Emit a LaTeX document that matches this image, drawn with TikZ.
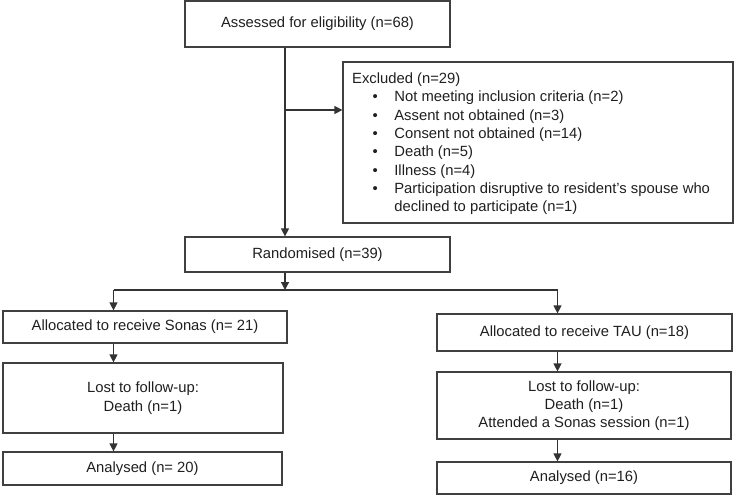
\documentclass[tikz,border=0pt]{standalone}
\usepackage{fontspec}
\setmainfont{Liberation Sans}
\usetikzlibrary{arrows.meta}
\begin{document}
\begin{tikzpicture}[x=1pt,y=-1pt,
  box/.style={draw=black!75, line width=1.2pt, inner sep=0pt, align=center, text=black!88},
  arr/.style={draw=black!80, line width=1.2pt, -{Triangle[length=8pt,width=8pt]}},
  ln/.style={draw=black!80, line width=1.2pt},
  every node/.style={font=\fontsize{14.8}{18.3}\selectfont}]
\useasboundingbox (0,0) rectangle (734,495);
% boxes
\node[box, minimum width=265pt, minimum height=46pt] (assess) at (317.5,24) {Assessed for eligibility (n=68)};
\node[box, minimum width=390pt, minimum height=161pt] (excl) at (538,142.5) {};
\node[anchor=north west, inner sep=0pt, text=black!88] (excltxt) at (352,70.6) {%
\begin{tabular}{@{}l@{}l@{}}
\multicolumn{2}{@{}l}{Excluded (n=29)}\\
\hspace*{20.5pt}\textbullet\hspace*{16.5pt} & Not meeting inclusion criteria (n=2)\\
\hspace*{20.5pt}\textbullet\hspace*{16.5pt} & Assent not obtained (n=3)\\
\hspace*{20.5pt}\textbullet\hspace*{16.5pt} & Consent not obtained (n=14)\\
\hspace*{20.5pt}\textbullet\hspace*{16.5pt} & Death (n=5)\\
\hspace*{20.5pt}\textbullet\hspace*{16.5pt} & Illness (n=4)\\
\hspace*{20.5pt}\textbullet\hspace*{16.5pt} & Participation disruptive to resident’s spouse who\\
 & declined to participate (n=1)
\end{tabular}};
\node[box, minimum width=265pt, minimum height=35pt] (rand) at (317.5,254.5) {Randomised (n=39)};
\node[box, minimum width=284pt, minimum height=32pt] (sonas) at (145,327) {Allocated to receive Sonas (n= 21)};
\node[box, minimum width=280pt, minimum height=70pt] (lostL) at (143,398) {Lost to follow-up:\\[1.2pt] Death (n=1)};
\node[box, minimum width=279pt, minimum height=33pt] (anaL) at (142.5,468.5) {Analysed (n= 20)};
\node[box, minimum width=295pt, minimum height=37pt] (tau) at (584.5,332.5) {Allocated to receive TAU (n=18)};
\node[box, minimum width=294pt, minimum height=67pt] (lostR) at (584,405.5) {Lost to follow-up:\\ Death (n=1)\\ Attended a Sonas session (n=1)};
\node[box, minimum width=294pt, minimum height=32pt] (anaR) at (584,478) {Analysed (n=16)};
% junction coordinates
\coordinate (j1) at (285,110);
\coordinate (jM) at (285,290);
\coordinate (jL) at (113.5,290);
\coordinate (jR) at (557.5,290);
% connectors
\draw[arr] (assess.south -| j1) -- (rand.north -| j1);
\draw[arr] (j1) -- (excl.west |- j1);
\draw[arr] (rand.south -| jM) -- (jM);
\draw[ln] (jL) -- (jR);
\draw[arr] (jL) -- (sonas.north -| jL);
\draw[arr] (jR) -- (tau.north -| jR);
\draw[arr] (sonas.south -| jL) -- (lostL.north -| jL);
\draw[arr] (lostL.south -| jL) -- (anaL.north -| jL);
\draw[arr] (tau.south -| jR) -- (lostR.north -| jR);
\draw[arr] (lostR.south -| jR) -- (anaR.north -| jR);
\end{tikzpicture}
\end{document}
